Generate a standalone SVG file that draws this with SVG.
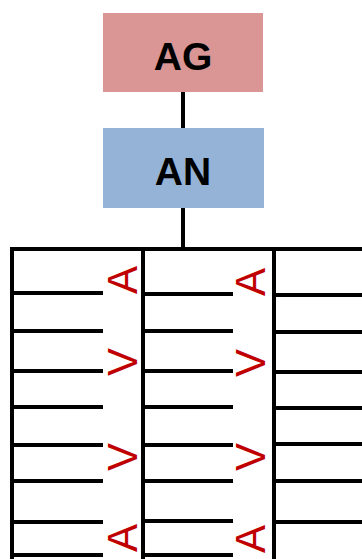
<svg xmlns="http://www.w3.org/2000/svg" width="362" height="559" viewBox="0 0 362 559">
<style>
.box-t{font-family:"Liberation Sans",Arial,sans-serif;font-weight:bold;font-size:39px;fill:#000;text-anchor:middle}
.ln{stroke:#000;stroke-width:4;fill:none}
.sym{font-family:"Liberation Sans",Arial,sans-serif;font-size:42px;fill:#c00000;text-anchor:middle}
</style>
<rect width="362" height="559" fill="#fff"/>
<g id="connectors">
<line class="ln" x1="183" y1="92" x2="183" y2="128"/>
<line class="ln" x1="183" y1="208" x2="183" y2="249"/>
<line class="ln" x1="10" y1="249" x2="362" y2="249"/>
<line class="ln" x1="12" y1="247" x2="12" y2="559"/>
<line class="ln" x1="143" y1="249" x2="143" y2="559"/>
<line class="ln" x1="274" y1="249" x2="274" y2="559"/>
<path class="ln" d="M12 293H103M12 331H103M12 371H103M12 407H103M12 445H103M12 481H103M12 522H103M12 555H103"/>
<path class="ln" d="M143 294H233M143 331H233M143 371H233M143 407H233M143 445H233M143 481H233M143 521H233M143 555H233"/>
<path class="ln" d="M274 295H362M274 332H362M274 372H362M274 408H362M274 444H362M274 481H362M274 522H362"/>
</g>
<g id="AG">
<rect x="103" y="13" width="160" height="79" fill="#d99694"/>
<text class="box-t" x="183" y="70">AG</text>
</g>
<g id="AN">
<rect x="103" y="128" width="161" height="80" fill="#95b3d7"/>
<text class="box-t" x="183" y="185">AN</text>
</g>
<g id="symbols">
<text class="sym" transform="translate(122,280) rotate(-90)" x="0" y="15">A</text>
<text class="sym" transform="translate(122,362) rotate(-90)" x="0" y="15">V</text>
<text class="sym" transform="translate(122,457) rotate(-90)" x="0" y="15">V</text>
<text class="sym" transform="translate(122,538) rotate(-90)" x="0" y="15">A</text>
<text class="sym" transform="translate(250,282) rotate(-90)" x="0" y="15">A</text>
<text class="sym" transform="translate(250,363) rotate(-90)" x="0" y="15">V</text>
<text class="sym" transform="translate(250,457) rotate(-90)" x="0" y="15">V</text>
<text class="sym" transform="translate(250,539) rotate(-90)" x="0" y="15">A</text>
</g>
</svg>
